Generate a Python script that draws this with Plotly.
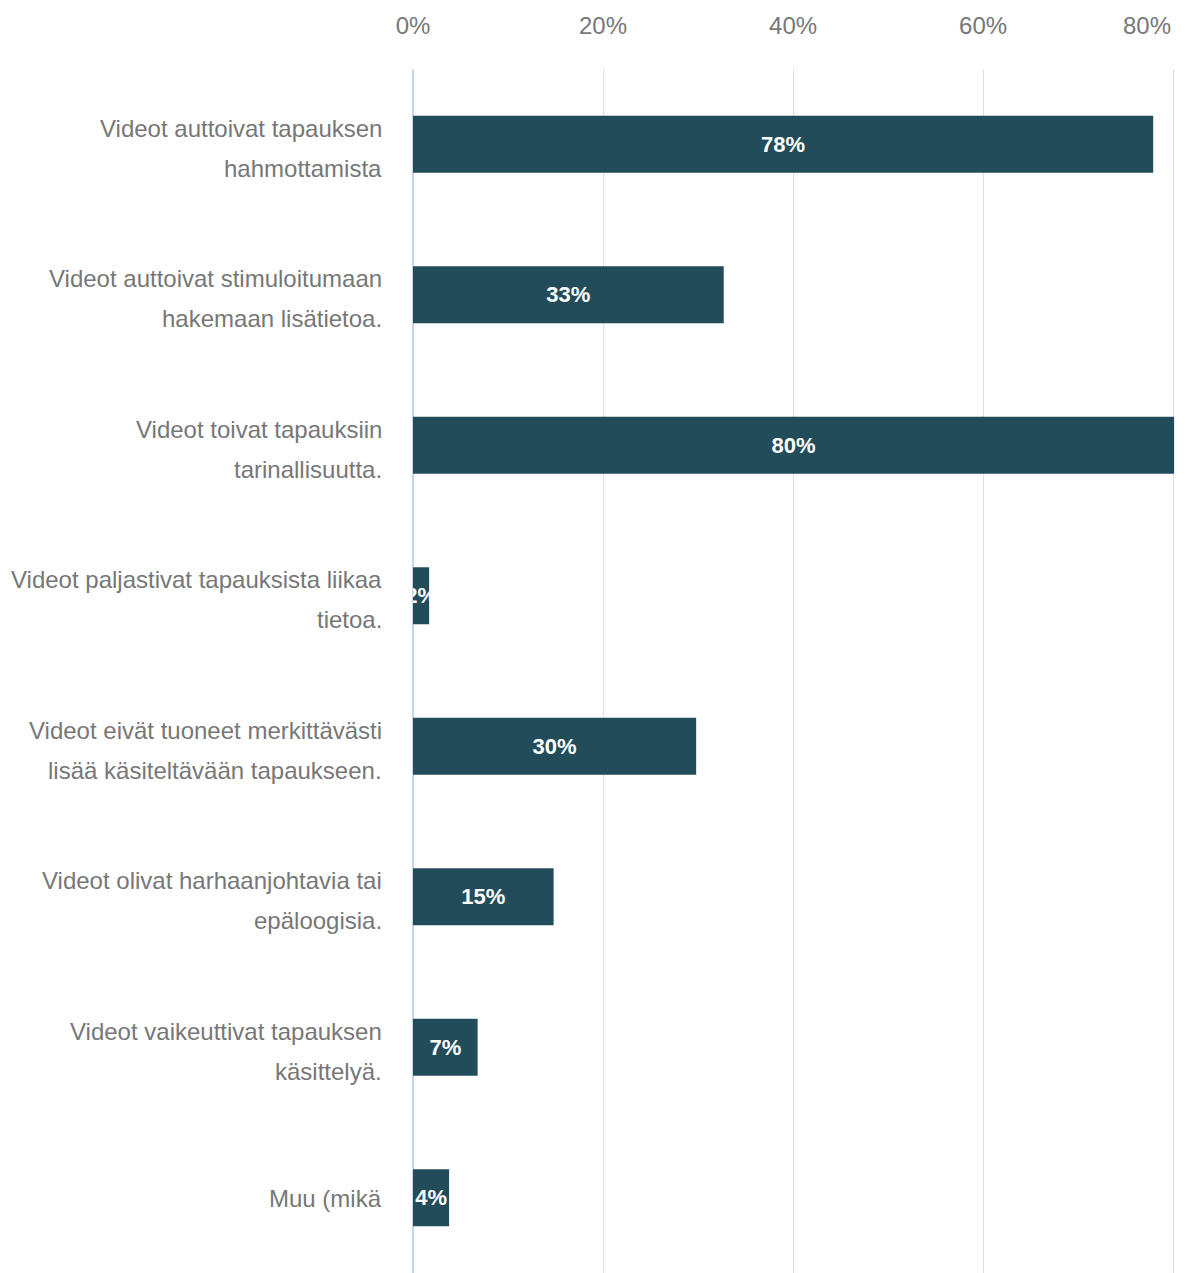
import plotly.graph_objects as go

categories = [
    "Videot auttoivat tapauksen<br>hahmottamista",
    "Videot auttoivat stimuloitumaan<br>hakemaan lisätietoa.",
    "Videot toivat tapauksiin<br>tarinallisuutta.",
    "Videot paljastivat tapauksista liikaa<br>tietoa.",
    "Videot eivät tuoneet merkittävästi<br>lisää käsiteltävään tapaukseen.",
    "Videot olivat harhaanjohtavia tai<br>epäloogisia.",
    "Videot vaikeuttivat tapauksen<br>käsittelyä.",
    "Muu (mikä",
]
values = [77.9, 32.7, 80.1, 1.7, 29.8, 14.8, 6.8, 3.8]
value_labels = ["78%", "33%", "80%", "2%", "30%", "15%", "7%", "4%"]
x_ticks = [0, 20, 40, 60, 80]
x_tick_labels = ["0%", "20%", "40%", "60%", "80%"]

BAR = "#234c5a"
LABEL = "#777777"
FONT = "Liberation Sans, Arial, sans-serif"

fig = go.Figure()
fig.add_trace(go.Bar(
    y=categories, x=values, orientation="h",
    marker=dict(color=BAR, line=dict(width=0)),
    width=0.38,
    text=value_labels, textposition="inside", insidetextanchor="middle",
    constraintext="none", cliponaxis=True, textangle=0,
    textfont=dict(color="white", size=22, family=FONT, weight="bold"),
    hoverinfo="skip",
))

for cat in categories:
    lines = cat.split("<br>")
    if len(lines) == 1:
        shifts = [-1]
    else:
        shifts = [16, -24]
    for line, s in zip(lines, shifts):
        fig.add_annotation(
            x=0, xref="paper", y=cat, yref="y", text=line,
            xanchor="right", yanchor="middle", xshift=-29, yshift=s,
            showarrow=False, font=dict(size=24, color=LABEL, family=FONT),
        )

# tick labels drawn on the axis except the last, which is kept inside the page
shown = [t if i < len(x_ticks) - 1 else "" for i, t in enumerate(x_tick_labels)]
fig.add_annotation(
    x=x_ticks[-1], xref="x", y=1, yref="paper", text=x_tick_labels[-1],
    xanchor="right", yanchor="middle", xshift=0, yshift=44,
    showarrow=False, font=dict(size=24, color=LABEL, family=FONT),
)

fig.update_layout(
    width=1185, height=1273,
    margin=dict(l=413, r=9, t=69, b=0),
    paper_bgcolor="white", plot_bgcolor="white",
    showlegend=False, bargap=0.62,
    font=dict(family=FONT),
)
fig.update_xaxes(
    side="top", range=[0, 80.3], tickvals=x_ticks, ticktext=shown,
    tickfont=dict(size=24, color=LABEL, family=FONT),
    showgrid=True, gridcolor="#e0e0e0", gridwidth=1,
    zeroline=True, zerolinecolor="#c9d3ea", zerolinewidth=2,
    ticks="", ticklabelstandoff=29, showline=False, fixedrange=True,
)
fig.update_yaxes(
    autorange="reversed", showticklabels=False, showgrid=False,
    zeroline=False, showline=False, ticks="", fixedrange=True,
)

fig.write_html("out.html")
